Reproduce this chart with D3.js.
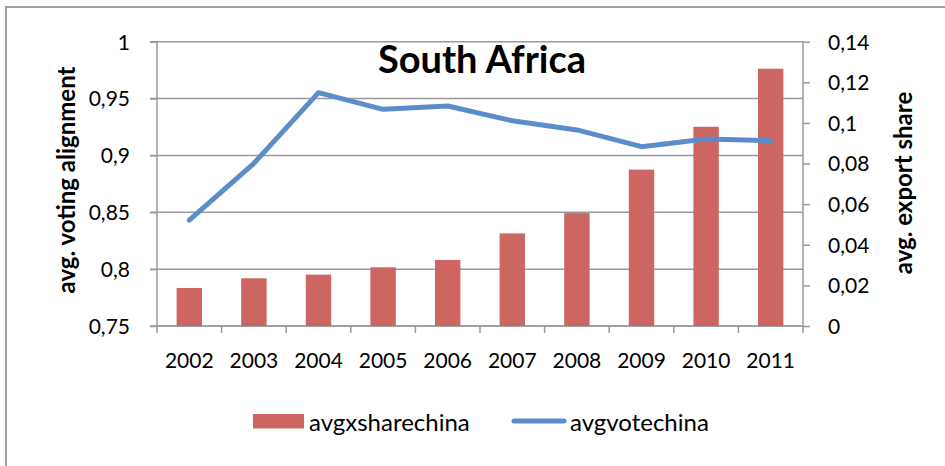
<!DOCTYPE html>
<html>
<head>
<meta charset="utf-8">
<script src="https://cdn.jsdelivr.net/npm/d3@7"></script>
<style>
  body { margin: 0; background: #fff; }
  svg text { font-family: Lato, "Open Sans", sans-serif; fill: #000; }
</style>
</head>
<body>
<svg id="chart" width="945" height="466"></svg>
<script>
// data
const years = ["2002", "2003", "2004", "2005", "2006", "2007", "2008", "2009", "2010", "2011"];
const exportShare = [0.0187, 0.0235, 0.0253, 0.0289, 0.0325, 0.0456, 0.0556, 0.0770, 0.0981, 0.1267];
const votingAlign = [0.8432, 0.8931, 0.9552, 0.9405, 0.9435, 0.9305, 0.9224, 0.9077, 0.9144, 0.9129];
const leftTicks = [0.75, 0.8, 0.85, 0.9, 0.95, 1];
const rightTicks = [0, 0.02, 0.04, 0.06, 0.08, 0.1, 0.12, 0.14];

const barColor = "#cd6660";
const lineColor = "#5b8ec9";
const gridColor = "#9a9a9a";

const svg = d3.select("#chart");
const plotLeft = 157, plotRight = 803, plotTop = 41.7, plotBottom = 326;

// chart frame (only left and top edges are in view)
svg.append("path")
    .attr("d", "M6,466 L6,7 L945,7")
    .attr("fill", "none")
    .attr("stroke", "#a0a0a0")
    .attr("stroke-width", 2);

let xb = d3.scaleBand().domain(years).range([plotLeft, plotRight]);
let yL = d3.scaleLinear([0.75, 1], [plotBottom, plotTop]);
let yR = d3.scaleLinear([0, 0.14], [plotBottom, plotTop]);

const fmt = d => String(d).replace(".", ",");

// gridlines
svg.append("g")
    .selectAll("line")
    .data(leftTicks)
    .join("line")
    .attr("x1", plotLeft - 7)
    .attr("x2", plotRight)
    .attr("y1", d => yL(d))
    .attr("y2", d => yL(d))
    .attr("stroke", gridColor)
    .attr("stroke-width", 1.5);

// left axis
let yAxisL = svg.append("g")
    .attr("transform", `translate(${plotLeft},0)`)
    .call(d3.axisLeft(yL).tickValues(leftTicks).tickFormat(fmt).tickSize(7).tickPadding(20));
yAxisL.selectAll("path, line").attr("stroke", gridColor).attr("stroke-width", 1.5);
yAxisL.select(".domain").attr("d", `M0,${plotTop}V${plotBottom}`);
yAxisL.selectAll("text").style("font-size", "21px").attr("dy", "0.35em");

// right axis
let yAxisR = svg.append("g")
    .attr("transform", `translate(${plotRight},0)`)
    .call(d3.axisRight(yR).tickValues(rightTicks).tickFormat(fmt).tickSize(7).tickPadding(18));
yAxisR.selectAll("path, line").attr("stroke", gridColor).attr("stroke-width", 1.5);
yAxisR.select(".domain").attr("d", `M0,${plotTop}V${plotBottom}`);
yAxisR.selectAll("text").style("font-size", "21px").attr("dy", "0.35em");

// bottom axis with ticks between categories
let xAxis = svg.append("g").attr("transform", `translate(0,${plotBottom})`);
xAxis.append("line")
    .attr("x1", plotLeft).attr("x2", plotRight)
    .attr("stroke", gridColor).attr("stroke-width", 1.5);
xAxis.selectAll(".tk")
    .data(years.concat(["end"]))
    .join("line")
    .attr("class", "tk")
    .attr("x1", (d, i) => plotLeft + i * xb.step())
    .attr("x2", (d, i) => plotLeft + i * xb.step())
    .attr("y1", 0).attr("y2", 7)
    .attr("stroke", gridColor).attr("stroke-width", 1.5);
xAxis.selectAll("text")
    .data(years)
    .join("text")
    .attr("x", d => xb(d) + xb.bandwidth() / 2)
    .attr("y", 42)
    .attr("text-anchor", "middle")
    .style("font-size", "21px")
    .text(d => d);

// bars
svg.append("g")
    .attr("fill", barColor)
    .selectAll("rect")
    .data(exportShare)
    .join("rect")
    .attr("x", (d, i) => xb(years[i]) + xb.bandwidth() / 2 - 12.7)
    .attr("width", 25.4)
    .attr("y", d => yR(d))
    .attr("height", d => yR(0) - yR(d));

// line
let line = d3.line()
    .x((d, i) => xb(years[i]) + xb.bandwidth() / 2)
    .y(d => yL(d));
svg.append("path")
    .datum(votingAlign)
    .attr("d", line)
    .attr("fill", "none")
    .attr("stroke", lineColor)
    .attr("stroke-width", 5)
    .attr("stroke-linecap", "round")
    .attr("stroke-linejoin", "round");

// title
svg.append("text")
    .attr("x", 482)
    .attr("y", 73)
    .attr("text-anchor", "middle")
    .style("font-size", "38px")
    .style("font-weight", "bold")
    .text("South Africa");

// axis titles
svg.append("text")
    .attr("transform", "translate(75,180) rotate(-90)")
    .attr("text-anchor", "middle")
    .style("font-size", "24px")
    .style("font-weight", "bold")
    .text("avg. voting alignment");
svg.append("text")
    .attr("transform", "translate(912,183) rotate(-90)")
    .attr("text-anchor", "middle")
    .style("font-size", "24px")
    .style("font-weight", "bold")
    .text("avg. export share");

// legend
let legend = svg.append("g");
legend.append("rect")
    .attr("x", 253).attr("y", 414)
    .attr("width", 51).attr("height", 14.5)
    .attr("fill", barColor);
legend.append("text")
    .attr("x", 309).attr("y", 431)
    .style("font-size", "24px")
    .text("avgxsharechina");
legend.append("line")
    .attr("x1", 514).attr("x2", 564)
    .attr("y1", 421).attr("y2", 421)
    .attr("stroke", lineColor)
    .attr("stroke-width", 5)
    .attr("stroke-linecap", "round");
legend.append("text")
    .attr("x", 570).attr("y", 431)
    .style("font-size", "24px")
    .text("avgvotechina");
</script>
</body>
</html>
